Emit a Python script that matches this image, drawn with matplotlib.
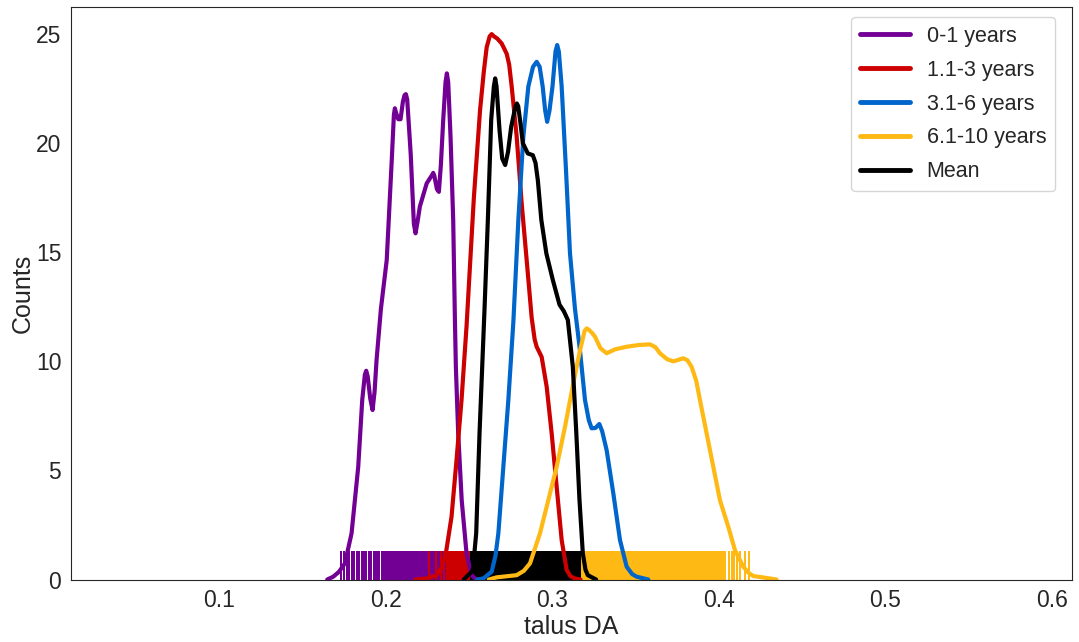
import matplotlib
matplotlib.use("Agg")
import matplotlib.pyplot as plt
import seaborn as sns

# density curves (talus DA vs counts), one per age group
x_0_1 = [0.1650, 0.1686, 0.1720, 0.1756, 0.1796, 0.1836, 0.1860, 0.1876, 0.1884, 0.1893,
         0.1908, 0.1922, 0.1934, 0.1946, 0.1972, 0.2007, 0.2037, 0.2050, 0.2056, 0.2063, 0.2076,
         0.2090, 0.2104, 0.2114, 0.2122, 0.2130, 0.2151, 0.2170, 0.2180, 0.2192, 0.2206, 0.2247,
         0.2280, 0.2286, 0.2293, 0.2308, 0.2320, 0.2332, 0.2346, 0.2360, 0.2368, 0.2376, 0.2390,
         0.2406, 0.2416, 0.2422, 0.2436, 0.2457, 0.2486, 0.2516, 0.2545]
y_0_1 = [0.0, 0.13, 0.35, 0.74, 2.12, 5.17, 8.23, 9.4, 9.57, 9.3,
         8.3, 7.77, 8.6, 10.06, 12.4, 14.64, 19.2, 21.3, 21.6, 21.4, 21.1,
         21.1, 21.9, 22.2, 22.25, 22.0, 19.5, 16.3, 15.87, 16.4, 17.1, 18.16,
         18.55, 18.64, 18.5, 17.9, 17.77, 19.0, 21.06, 22.8, 23.2, 22.8, 20.3,
         16.48, 12.04, 9.75, 6.7, 3.64, 1.2, 0.2, 0.0]

x_1_3 = [0.218, 0.2250, 0.2306, 0.2340, 0.2362, 0.2396, 0.2426, 0.2456, 0.2486, 0.2530, 0.2567,
         0.2590, 0.2607, 0.2625, 0.2637, 0.2650, 0.2670, 0.2697, 0.2727, 0.2742, 0.2757, 0.2787,
         0.2817, 0.2847, 0.2877, 0.2895, 0.2907, 0.2937, 0.2967, 0.2997, 0.3027, 0.3057, 0.3087,
         0.3110, 0.3137, 0.3170]
y_1_3 = [0.0, 0.05, 0.2, 0.6, 1.2, 2.88, 5.48, 8.23, 11.6, 17.5, 21.5,
         23.3, 24.4, 24.9, 25.0, 24.9, 24.8, 24.57, 24.1, 23.6, 22.6, 20.3,
         17.24, 14.64, 12.0, 11.0, 10.67, 10.2, 8.84, 6.7, 4.25, 1.81, 0.44,
         0.15, 0.05, 0.0]

x_3_6 = [0.255, 0.2587, 0.2637, 0.2660, 0.2677, 0.2707, 0.2737, 0.2767, 0.2797, 0.2827, 0.2857,
         0.2885, 0.2907, 0.2925, 0.2943, 0.2958, 0.2970, 0.2984, 0.3002, 0.3020, 0.3030, 0.3040,
         0.3057, 0.3083, 0.3107, 0.3137, 0.3167, 0.3197, 0.3220, 0.3237, 0.3260, 0.3283, 0.3300,
         0.3327, 0.3367, 0.3407, 0.3447, 0.3480, 0.3507, 0.3577]
y_3_6 = [0.0, 0.05, 0.36, 1.1, 2.12, 5.17, 8.23, 11.8, 16.48, 20.3, 22.6,
         23.5, 23.73, 23.5, 22.6, 21.5, 20.98, 21.5, 22.6, 24.2, 24.5, 24.2,
         22.6, 18.77, 14.95, 12.4, 10.5, 8.23, 7.3, 6.93, 6.95, 7.13, 6.8,
         5.93, 3.95, 1.81, 0.59, 0.25, 0.13, 0.0]

x_6_10 = [0.262, 0.2667, 0.2787, 0.2830, 0.2867, 0.2927, 0.2977, 0.3027, 0.3077, 0.3127, 0.3167,
          0.3195, 0.3207, 0.3220, 0.3240, 0.3257, 0.3290, 0.3327, 0.3377, 0.3447, 0.3520, 0.3587,
          0.3620, 0.3647, 0.3690, 0.3727, 0.3787, 0.3812, 0.3837, 0.3865, 0.3887, 0.3927, 0.3967,
          0.4007, 0.4057, 0.4097, 0.4147, 0.4180, 0.4207, 0.4280, 0.4347]
y_6_10 = [0.0, 0.1, 0.2, 0.4, 0.74, 2.12, 3.64, 5.17, 7.0, 9.0, 10.5,
          11.4, 11.51, 11.45, 11.3, 11.13, 10.6, 10.37, 10.55, 10.67, 10.75, 10.78,
          10.65, 10.37, 10.1, 10.0, 10.14, 10.05, 9.75, 9.1, 8.23, 6.7, 5.17,
          3.64, 2.42, 1.35, 0.59, 0.3, 0.16, 0.08, 0.0]

x_mean = [0.2470, 0.2486, 0.2510, 0.2524, 0.2544, 0.2564, 0.2594, 0.2614, 0.2634, 0.2650, 0.2658,
          0.2666, 0.2684, 0.2700, 0.2718, 0.2735, 0.2754, 0.2780, 0.2788, 0.2796, 0.2810, 0.2824,
          0.2854, 0.2884, 0.2900, 0.2914, 0.2935, 0.2965, 0.3004, 0.3044, 0.3070, 0.3094, 0.3124,
          0.3145, 0.3164, 0.3184, 0.3200, 0.3214, 0.3264]
y_mean = [0.0, 0.13, 0.3, 0.44, 2.12, 6.7, 12.4, 16.48, 21.06, 22.6, 22.97,
          22.6, 20.6, 19.3, 19.0, 19.6, 20.75, 21.7, 21.82, 21.7, 20.9, 20.0,
          19.53, 19.45, 19.1, 18.3, 16.48, 14.95, 13.73, 12.6, 12.3, 11.9, 9.75,
          6.7, 3.64, 1.2, 0.45, 0.2, 0.0]

# individual observations shown as rug ticks
rug_0_1 = [0.173, 0.175, 0.177, 0.178, 0.180, 0.181, 0.183, 0.184, 0.186, 0.187, 0.188,
           0.190, 0.191, 0.193, 0.194, 0.195, 0.196, 0.198, 0.199, 0.200, 0.201, 0.202,
           0.203, 0.204, 0.205, 0.206, 0.207, 0.208, 0.209, 0.210, 0.211, 0.212, 0.213,
           0.214, 0.215, 0.216, 0.217, 0.218, 0.219, 0.220, 0.221, 0.222, 0.223, 0.224,
           0.225, 0.226, 0.227, 0.228, 0.229, 0.230, 0.231, 0.232, 0.233, 0.234, 0.235,
           0.236, 0.237, 0.238, 0.239, 0.240, 0.241, 0.242, 0.243, 0.245, 0.247]
rug_1_3 = [0.226, 0.230, 0.233, 0.235, 0.237, 0.238, 0.239, 0.240, 0.241, 0.242, 0.243,
           0.244, 0.245, 0.246, 0.247, 0.248, 0.249, 0.250, 0.251, 0.252, 0.254, 0.256,
           0.258, 0.260, 0.262, 0.265, 0.268, 0.272, 0.276, 0.280, 0.285, 0.290, 0.296,
           0.303]
rug_3_6 = [0.262, 0.266, 0.270, 0.273, 0.276, 0.279, 0.282, 0.284, 0.286, 0.288, 0.290,
           0.292, 0.294, 0.296, 0.298, 0.300, 0.302, 0.304, 0.306, 0.308, 0.311, 0.314,
           0.318, 0.322, 0.326, 0.330, 0.335, 0.340, 0.345]
rug_6_10 = [0.272, 0.277, 0.282, 0.287, 0.291, 0.295, 0.299, 0.302, 0.305, 0.308, 0.310,
            0.312, 0.314, 0.316, 0.317, 0.318, 0.319, 0.320, 0.321, 0.322, 0.323, 0.324,
            0.325, 0.326, 0.327, 0.328, 0.329, 0.330, 0.331, 0.332, 0.333, 0.334, 0.335,
            0.336, 0.337, 0.338, 0.339, 0.340, 0.341, 0.342, 0.343, 0.344, 0.345, 0.346,
            0.347, 0.348, 0.349, 0.350, 0.351, 0.352, 0.353, 0.354, 0.355, 0.356, 0.357,
            0.358, 0.359, 0.360, 0.361, 0.362, 0.363, 0.364, 0.365, 0.366, 0.367, 0.368,
            0.369, 0.370, 0.371, 0.372, 0.373, 0.374, 0.375, 0.376, 0.377, 0.378, 0.379,
            0.380, 0.381, 0.382, 0.383, 0.384, 0.385, 0.386, 0.387, 0.388, 0.389, 0.390,
            0.391, 0.392, 0.393, 0.394, 0.395, 0.396, 0.397, 0.398, 0.399, 0.400, 0.401,
            0.402, 0.403, 0.404, 0.406, 0.408, 0.409, 0.411, 0.413, 0.416, 0.418]
rug_mean = [0.251, 0.252, 0.253, 0.254, 0.255, 0.256, 0.257, 0.258, 0.259, 0.260, 0.261,
            0.262, 0.263, 0.264, 0.265, 0.266, 0.267, 0.268, 0.269, 0.270, 0.271, 0.272,
            0.273, 0.274, 0.275, 0.276, 0.277, 0.278, 0.279, 0.280, 0.281, 0.282, 0.283,
            0.284, 0.285, 0.286, 0.287, 0.288, 0.289, 0.290, 0.291, 0.292, 0.293, 0.294,
            0.295, 0.296, 0.297, 0.298, 0.299, 0.300, 0.301, 0.302, 0.303, 0.304, 0.305,
            0.306, 0.307, 0.308, 0.309, 0.310, 0.311, 0.312, 0.313, 0.314, 0.315, 0.316,
            0.317]

labels = ["0-1 years", "1.1-3 years", "3.1-6 years", "6.1-10 years", "Mean"]
colors = ["#730094", "#cc0000", "#0066cc", "#ffb914", "#000000"]

sns.set_style("white")
plt.rcParams["font.family"] = ["Liberation Sans", "DejaVu Sans"]

fig = plt.figure(figsize=(10.79, 6.42), dpi=100)
ax = fig.add_axes([0.0658, 0.0973, 0.9277, 0.8917])

curves = [(x_0_1, y_0_1), (x_1_3, y_1_3), (x_3_6, y_3_6), (x_6_10, y_6_10), (x_mean, y_mean)]
rugs = [rug_0_1, rug_1_3, rug_3_6, rug_6_10, rug_mean]

for (xs, ys), rug, lab, col in zip(curves, rugs, labels, colors):
    ax.vlines(rug, 0, 0.05, transform=ax.get_xaxis_transform(), color=col, lw=1.25,
              antialiased=False, zorder=1)
    ax.plot(xs, ys, color=col, lw=3, label=lab, zorder=2,
            solid_joinstyle="round", solid_capstyle="round")

ax.set_xlim(0.0112, 0.612)
ax.set_ylim(0, 26.24)
ax.set_xticks([0.1, 0.2, 0.3, 0.4, 0.5, 0.6])
ax.set_yticks([0, 5, 10, 15, 20, 25])
ax.tick_params(labelsize=16.5, colors=".15")
ax.set_xlabel("talus DA", fontsize=18, color=".15", labelpad=2)
ax.set_ylabel("Counts", fontsize=18, color=".15", labelpad=1)

leg = ax.legend(loc="upper right", bbox_to_anchor=(0.983, 0.9825), borderaxespad=0,
                fontsize=15.5, handlelength=2.3, labelspacing=0.6, frameon=True)
for line in leg.get_lines():
    line.set_linewidth(3.5)

fig.savefig("out.png", dpi=100)
